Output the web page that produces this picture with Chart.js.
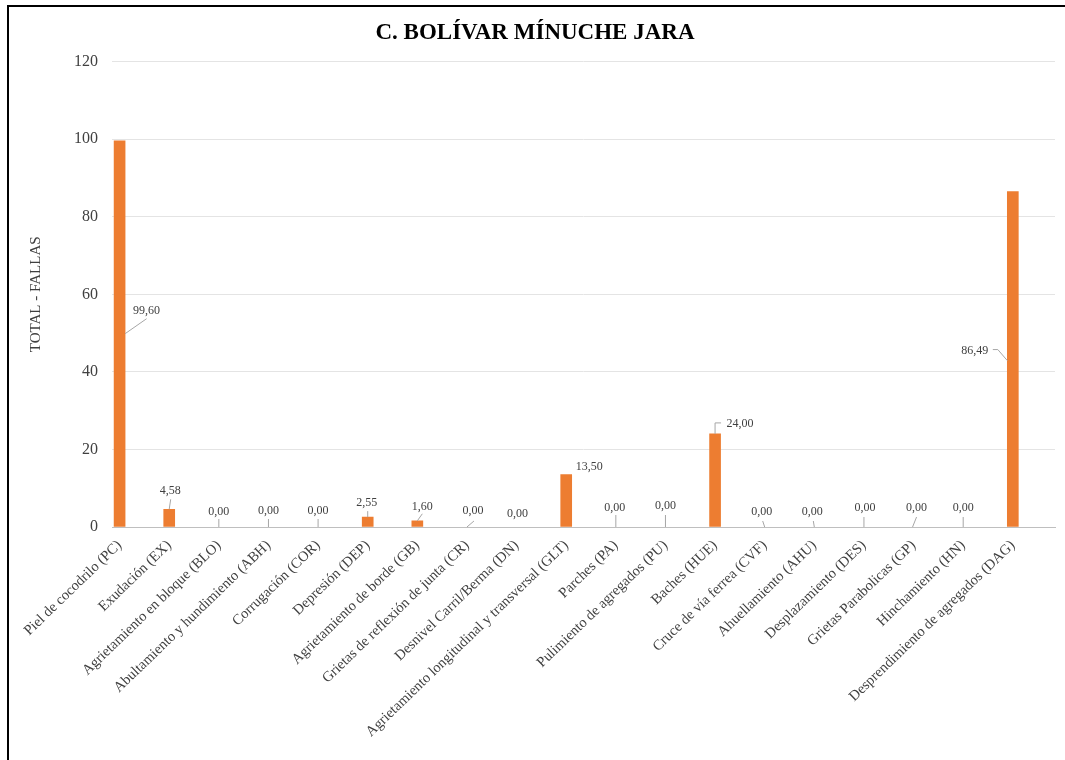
<!DOCTYPE html>
<html>
<head>
<meta charset="utf-8">
<script src="https://cdn.jsdelivr.net/npm/chart.js@4.4.1/dist/chart.umd.min.js"></script>
<style>
  html, body { margin: 0; padding: 0; background: #fff; overflow: hidden; }
  #frame {
    position: absolute; left: 7px; top: 5px;
    width: 1080px; height: 780px;
    border: 2px solid #000; box-sizing: border-box;
  }
  #chart { position: absolute; left: 0; top: 0; }
</style>
</head>
<body>
<div id="frame"></div>
<canvas id="chart" width="1065" height="760"></canvas>
<script>
const categories = [
  "Piel de cocodrilo (PC)",
  "Exudación (EX)",
  "Agrietamiento en bloque (BLO)",
  "Abultamiento y hundimiento (ABH)",
  "Corrugación (COR)",
  "Depresión (DEP)",
  "Agrietamiento de borde (GB)",
  "Grietas de reflexión de junta (CR)",
  "Desnivel Carril/Berma (DN)",
  "Agrietamiento longitudinal y transversal (GLT)",
  "Parches (PA)",
  "Pulimiento de agregados (PU)",
  "Baches (HUE)",
  "Cruce de vía ferrea (CVF)",
  "Ahuellamiento (AHU)",
  "Desplazamiento (DES)",
  "Grietas Parabolicas (GP)",
  "Hinchamiento (HN)",
  "Desprendimiento de agregados (DAG)"
];
const totals = [99.60, 4.58, 0, 0, 0, 2.55, 1.60, 0, 0, 13.50, 0, 0, 24.00, 0, 0, 0, 0, 0, 86.49];
const yTicks = [0, 20, 40, 60, 80, 100, 120];

// label placement, px from the top centre of each bar: [dx, dy]
const labelOffsets = [
  [27, 170], [1, -18], [0, -15], [0, -16], [0, -16], [-1, -14], [5, -14], [6, -16], [1, -13],
  [23, -8], [-1, -19], [0, -21], [25, -10], [-3, -15], [-2, -15], [1, -19], [3, -19], [0, -19], [-38, 159]
];
// leader lines, polyline points in px from the bar's top centre
const leaders = [
  [[5.5, 193], [27, 178]], [[0, 0], [1.5, -10]], [[0, 0], [0, -8]], [[0, 0], [0, -8]], [[0, 0], [0, -8]],
  [[0, 0], [0, -6]], [[0, 0], [5, -7]], [[0, 0], [7, -6]], null, null,
  [[0, 0], [0, -12]], [[0, 0], [0, -12]], [[0, 0], [0, -11], [6, -11]], [[0, 0], [-2, -6]],
  [[0, 0], [-1, -6]], [[0, 0], [0, -10]], [[-1, 0], [3, -10]], [[0, 0], [0, -10]],
  [[-5.5, 169], [-15, 158], [-20, 158]]
];

const SERIF = "'Liberation Serif', 'Times New Roman', serif";

function fmt(v) {
  return v.toFixed(2).replace(".", ",");
}

const valueLabels = {
  id: "valueLabels",
  afterDatasetsDraw(chart) {
    const ctx = chart.ctx;
    const meta = chart.getDatasetMeta(0);
    ctx.save();
    meta.data.forEach((bar, i) => {
      const cx = bar.x, top = bar.y;
      const pts = leaders[i];
      if (pts) {
        ctx.strokeStyle = "#A6A6A6";
        ctx.lineWidth = 1;
        ctx.beginPath();
        pts.forEach((p, j) => {
          if (j === 0) ctx.moveTo(cx + p[0], top + p[1]);
          else ctx.lineTo(cx + p[0], top + p[1]);
        });
        ctx.stroke();
      }
      const off = labelOffsets[i];
      ctx.fillStyle = "#404040";
      ctx.font = "12px " + SERIF;
      ctx.textAlign = "center";
      ctx.textBaseline = "middle";
      ctx.fillText(fmt(totals[i]), cx + off[0], top + off[1]);
    });
    ctx.restore();
  }
};

new Chart(document.getElementById("chart"), {
  type: "bar",
  data: {
    datasets: [{
      label: "TOTAL - FALLAS",
      data: totals.map((v, i) => ({ x: i, y: v })),
      backgroundColor: (c) => (c.raw && c.raw.y > 0 ? "#ED7D31" : "rgba(0,0,0,0)"),
      barThickness: 11
    }]
  },
  options: {
    responsive: false,
    animation: false,
    layout: { padding: { left: 15, right: 10, top: 0, bottom: 0 } },
    plugins: {
      legend: { display: false },
      tooltip: { enabled: false },
      title: {
        display: true,
        text: "C. BOLÍVAR MÍNUCHE JARA",
        color: "#000",
        font: { family: SERIF, size: 23, weight: "bold" },
        padding: { top: 19, bottom: 15 }
      }
    },
    scales: {
      x: {
        type: "linear",
        offset: false,
        min: -0.153,
        max: 18.85,
        afterBuildTicks: (scale) => {
          scale.ticks = categories.map((_, i) => ({ value: i }));
        },
        afterFit: (scale) => { scale.height = 233; },
        grid: { display: false, drawTicks: false, offset: false },
        border: { display: true, color: "#BFBFBF", width: 1 },
        ticks: {
          autoSkip: false,
          minRotation: 44,
          maxRotation: 44,
          padding: 10,
          color: "#404040",
          font: { family: SERIF, size: 14.5 },
          callback: (v) => categories[v]
        }
      },
      y: {
        min: 0,
        max: 120,
        afterBuildTicks: (scale) => {
          scale.ticks = yTicks.map((v) => ({ value: v }));
        },
        afterFit: (scale) => { scale.width = 97; },
        grid: { color: "#E4E4E4", drawTicks: false },
        border: { display: false },
        ticks: {
          padding: 14,
          color: "#404040",
          font: { family: SERIF, size: 16 }
        },
        title: {
          display: true,
          text: "TOTAL - FALLAS",
          color: "#404040",
          font: { family: SERIF, size: 15 },
          padding: { top: 12, bottom: 0 }
        }
      }
    }
  },
  plugins: [valueLabels]
});
</script>
</body>
</html>
